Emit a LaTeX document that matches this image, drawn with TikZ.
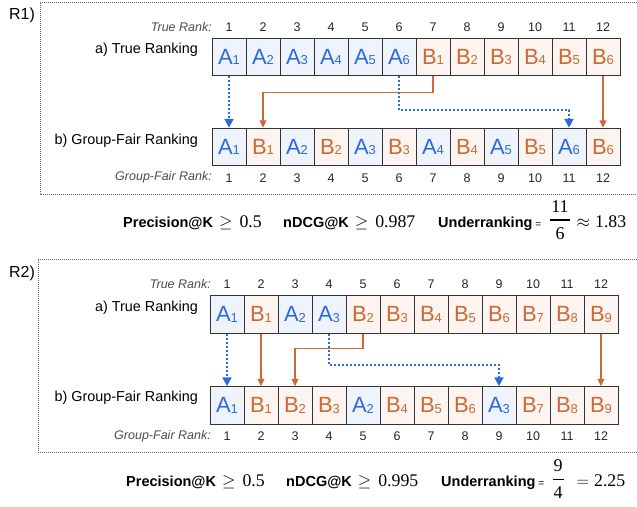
\documentclass[tikz,border=0pt]{standalone}
\usepackage{fontspec}
\setmainfont{Liberation Sans}
\newfontfamily\numfont{Liberation Serif}
\usetikzlibrary{arrows.meta,positioning}

\definecolor{grpA}{HTML}{2B6BDC}
\definecolor{grpB}{HTML}{CC6A33}
\definecolor{fillA}{HTML}{EFF3FC}
\definecolor{fillB}{HTML}{FBF4F0}

\newcommand{\itm}[2]{#1\raisebox{-0.5pt}{\fontsize{13}{13}\selectfont #2}}
\newcommand{\metric}[1]{{\fontsize{14.5}{16}\selectfont\bfseries #1}}
\newcommand{\eqs}{{\fontsize{10}{12}\selectfont =}}
\newcommand{\rel}[3]{{\fontsize{17.8}{20}\selectfont$#1$\hspace{#3}\numfont #2}}
\newcommand{\ratio}[2]{{\fontsize{18}{20}\selectfont\numfont
  \vbox{\halign{\hfil\kern1pt##\kern1pt\hfil\cr #1\cr
  \noalign{\kern7pt\hrule height 1.5pt\kern6.5pt}#2\cr}}}}

\begin{document}
\begin{tikzpicture}[x=1pt, y=-1pt,
    box/.style = {shape=rectangle, draw=black!80, line width=1pt,
    minimum width=34pt, minimum height=37.5pt, inner sep=0pt,
    font=\fontsize{22}{22}\selectfont},
    rank/.style = {font=\fontsize{12.5}{14}\selectfont, text=black!85},
    ranklab/.style = {font=\fontsize{12.5}{14}\selectfont\itshape,
    text=black!70, anchor=east, inner sep=0pt},
    rowlab/.style = {font=\fontsize{14.4}{16}\selectfont, anchor=east, inner sep=0pt},
    caselab/.style = {font=\fontsize{16}{18}\selectfont},
    metric/.style = {anchor=base west, inner sep=0pt},
    frac/.style = {inner sep=0pt},
    frame/.style = {draw=black!60, line width=0.7pt, dash pattern=on 1pt off 1pt},
    lineA/.style = {draw=grpA, line width=2pt, dash pattern=on 2pt off 2pt,
    -{Triangle[length=9pt, width=9pt]}},
    lineB/.style = {draw=grpB, line width=1.4pt, -{Triangle[length=7.5pt, width=7pt]}}]

  \useasboundingbox (0,0) rectangle (637,506);

  % R1
  \draw[frame] (637,2) -- (40,2) -- (40,194) -- (637,194);
  \node[caselab] (case1) at (22,15) {R1)};

  \node[ranklab] (r1tr) at (212,27) {True Rank:};
  \node[rowlab] (r1true) at (198,50) {a) True Ranking};
  \node[rowlab] (r1fair) at (198,141) {b) Group-Fair Ranking};
  \node[ranklab] (r1gr) at (212,177) {Group-Fair Rank:};

  \foreach \g/\k [count=\i] in {A/1,A/2,A/3,A/4,A/5,A/6,B/1,B/2,B/3,B/4,B/5,B/6} {
    \node[box, fill=fill\g, text=grp\g] (r1t\i) at ({212+34*\i-17},57) {\itm{\g}{\k}};
    \node[rank] (r1n\i) at ({212+34*\i-17},27) {\i};
  }
  \foreach \g/\k [count=\i] in {A/1,B/1,A/2,B/2,A/3,B/3,A/4,B/4,A/5,B/5,A/6,B/6} {
    \node[box, fill=fill\g, text=grp\g] (r1g\i) at ({212+34*\i-17},147) {\itm{\g}{\k}};
    \node[rank] (r1m\i) at ({212+34*\i-17},178) {\i};
  }

  \draw[lineA] (r1t1.south) -- (r1g1.north);
  \draw[lineB] (r1t7.south) -- ++(0,-16pt) -| (r1g2.north);
  \draw[lineA] (r1t6.south) -- ++(0,-34pt) -| (r1g11.north);
  \draw[lineB] (r1t12.south) -- (r1g12.north);

  \node[metric] (r1prec) at (123,227.5) {\metric{Precision@K}\hspace{6pt}\rel{\geq}{0.5}{7pt}};
  \node[metric] (r1ndcg) at (283,227.5) {\metric{nDCG@K}\hspace{6pt}\rel{\geq}{0.987}{7pt}};
  \node[metric] (r1under) at (438,227.5) {\metric{Underranking}\hspace{3pt}\eqs};
  \node[frac] (r1frac) at (560,220) {\ratio{11}{6}};
  \node[metric] (r1val) at (576.5,227.5) {\rel{\approx}{1.83}{5pt}};

  % R2
  \draw[frame] (637,259) -- (38,259) -- (38,452) -- (637,452);
  \node[caselab] (case2) at (22,273) {R2)};

  \node[ranklab] (r2tr) at (211,284) {True Rank:};
  \node[rowlab] (r2true) at (198,308) {a) True Ranking};
  \node[rowlab] (r2fair) at (198,398) {b) Group-Fair Ranking};
  \node[ranklab] (r2gr) at (211,436) {Group-Fair Rank:};

  \foreach \g/\k [count=\i] in {A/1,B/1,A/2,A/3,B/2,B/3,B/4,B/5,B/6,B/7,B/8,B/9} {
    \node[box, fill=fill\g, text=grp\g] (r2t\i) at ({210+34*\i-17},314.5) {\itm{\g}{\k}};
    \node[rank] (r2n\i) at ({210+34*\i-17},284) {\i};
  }
  \foreach \g/\k [count=\i] in {A/1,B/1,B/2,B/3,A/2,B/4,B/5,B/6,A/3,B/7,B/8,B/9} {
    \node[box, fill=fill\g, text=grp\g] (r2g\i) at ({210+34*\i-17},405.5) {\itm{\g}{\k}};
    \node[rank] (r2m\i) at ({210+34*\i-17},436) {\i};
  }

  \draw[lineA] (r2t1.south) -- (r2g1.north);
  \draw[lineB] (r2t2.south) -- (r2g2.north);
  \draw[lineB] (r2t5.south) -- ++(0,-15pt) -| (r2g3.north);
  \draw[lineA] (r2t4.south) -- ++(0,-31pt) -| (r2g9.north);
  \draw[lineB] (r2t12.south) -- (r2g12.north);

  \node[metric] (r2prec) at (126,486.5) {\metric{Precision@K}\hspace{6pt}\rel{\geq}{0.5}{7pt}};
  \node[metric] (r2ndcg) at (286,486.5) {\metric{nDCG@K}\hspace{6pt}\rel{\geq}{0.995}{7pt}};
  \node[metric] (r2under) at (441,486.5) {\metric{Underranking}\hspace{3pt}\eqs};
  \node[frac] (r2frac) at (558,479) {\ratio{9}{4}};
  \node[metric] (r2val) at (576.5,486.5) {\rel{=}{2.25}{5pt}};

\end{tikzpicture}
\end{document}
